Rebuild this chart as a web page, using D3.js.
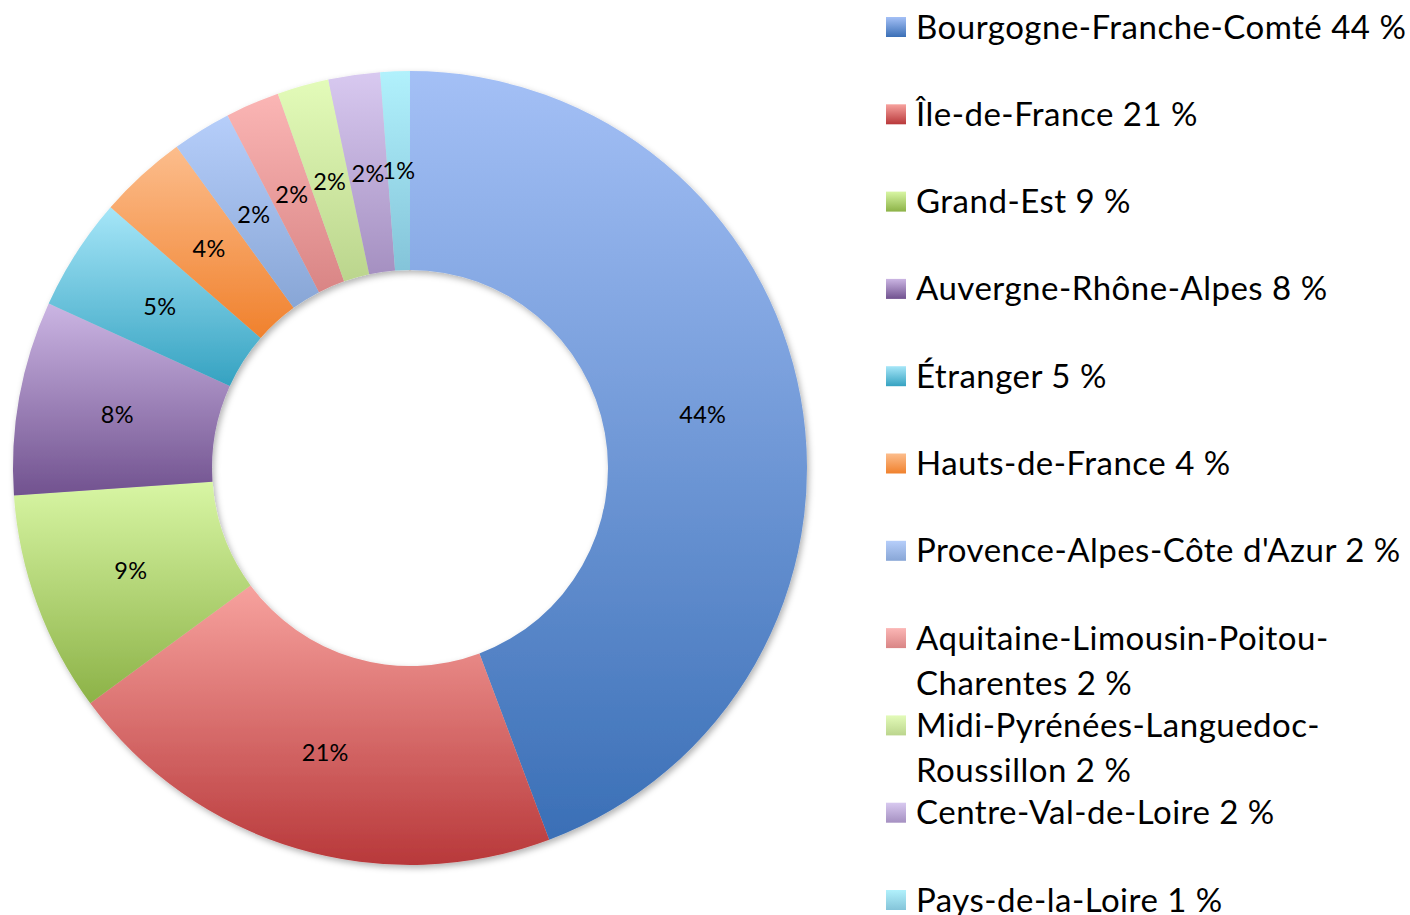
<!DOCTYPE html>
<html>
<head>
<meta charset="utf-8">
<script src="https://cdn.jsdelivr.net/npm/d3@7"></script>
<style>
  body { margin: 0; background: #fff; }
  text { font-family: Lato, "Open Sans", sans-serif; fill: #000; }
</style>
</head>
<body>
<div id="chart"></div>
<script>

// Regions and their share
const regions = ["Bourgogne-Franche-Comté", "Île-de-France", "Grand-Est", "Auvergne-Rhône-Alpes",
    "Étranger", "Hauts-de-France", "Provence-Alpes-Côte d'Azur", "Aquitaine-Limousin-Poitou-Charentes",
    "Midi-Pyrénées-Languedoc-Roussillon", "Centre-Val-de-Loire", "Pays-de-la-Loire"];
const shares = [44.3, 20.6, 9.0, 7.9, 4.6, 3.6, 2.4, 2.2, 2.1, 2.1, 1.2];

// gradient colours, top -> bottom
const topColors = ["#a4c0f6", "#f7a29e", "#d8f6a4", "#cbb5e3", "#a6e6f8", "#fcbd8c",
    "#b6cefa", "#fbb6b5", "#e3fbb9", "#d8c9f0", "#b1f1fc"];
const bottomColors = ["#3a6fb6", "#b8383a", "#8cb247", "#71528f", "#35a2c1", "#f0812d",
    "#88a6d6", "#d98585", "#bbd58d", "#a590c1", "#84c4d9"];

const width = 1410, height = 915;
const cx = 410, cy = 468;
const outerR = 397, innerR = 198;

const svg = d3.select("#chart").append("svg")
    .attr("width", width)
    .attr("height", height);

const defs = svg.append("defs");

// one vertical gradient per category
regions.forEach(function (r, i) {
    let g = defs.append("linearGradient")
        .attr("id", "grad" + i)
        .attr("x1", 0).attr("y1", 0)
        .attr("x2", 0).attr("y2", 1);
    g.append("stop").attr("offset", "0%").attr("stop-color", topColors[i]);
    g.append("stop").attr("offset", "100%").attr("stop-color", bottomColors[i]);
});

let shadow = defs.append("filter")
    .attr("id", "shadow")
    .attr("x", "-10%").attr("y", "-10%")
    .attr("width", "120%").attr("height", "120%");
shadow.append("feDropShadow")
    .attr("dx", 2).attr("dy", 3)
    .attr("stdDeviation", 3)
    .attr("flood-color", "#000")
    .attr("flood-opacity", 0.3);

const pie = d3.pie().sort(null).value(d => d);
const arc = d3.arc().innerRadius(innerR).outerRadius(outerR);

const arcs = pie(shares);

const donut = svg.append("g")
    .attr("transform", "translate(" + cx + "," + cy + ")");

donut.append("g")
    .attr("filter", "url(#shadow)")
    .selectAll("path")
    .data(arcs)
    .enter()
    .append("path")
    .attr("d", arc)
    .attr("fill", (d, i) => "url(#grad" + i + ")");

// percentage labels in the middle of each ring segment
donut.append("g")
    .selectAll("text")
    .data(arcs)
    .enter()
    .append("text")
    .attr("transform", d => "translate(" + arc.centroid(d) + ")")
    .attr("text-anchor", "middle")
    .attr("dy", "0.35em")
    .style("font-size", "23.5px")
    .style("letter-spacing", "0.3px")
    .text(d => Math.round(d.data) + "%");

// Legend
const legendX = 886, legendTop = 27, rowStep = 87.3, lineStep = 45;
const maxTextWidth = 500;

const legend = svg.append("g").attr("class", "legend");

regions.forEach(function (r, i) {
    let y = legendTop + i * rowStep;
    let row = legend.append("g");

    row.append("rect")
        .attr("x", legendX)
        .attr("y", y - 10)
        .attr("width", 20)
        .attr("height", 20)
        .attr("fill", "url(#grad" + i + ")");

    let txt = row.append("text")
        .attr("x", legendX + 30)
        .attr("y", y)
        .attr("dy", "0.35em")
        .style("font-size", "33px")
        .style("letter-spacing", "0.5px");

    // split after hyphens / spaces and wrap when too wide
    let label = r + " " + Math.round(shares[i]) + " %";
    let parts = label.match(/[^-\s]+[-\s]?/g);
    let lines = [];
    let cur = "";
    parts.forEach(function (p) {
        let test = cur + p;
        txt.text(test.trim());
        if (cur !== "" && txt.node().getComputedTextLength() > maxTextWidth) {
            lines.push(cur.trim());
            cur = p;
        } else {
            cur = test;
        }
    });
    lines.push(cur.trim());

    txt.text(null);
    lines.forEach(function (l, k) {
        txt.append("tspan")
            .attr("x", legendX + 30)
            .attr("y", y + k * lineStep)
            .attr("dy", "0.35em")
            .text(l);
    });
});

</script>
</body>
</html>
